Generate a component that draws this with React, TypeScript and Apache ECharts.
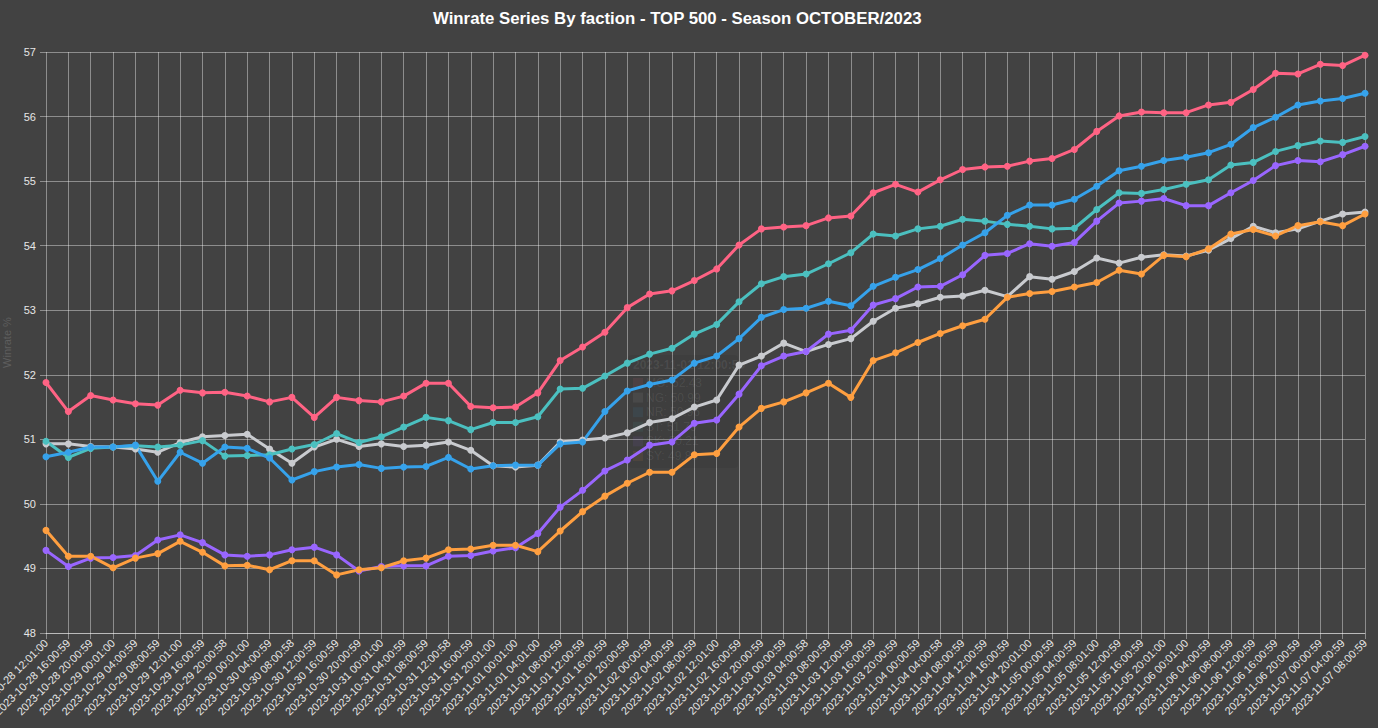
import React, { useEffect, useRef } from "react";
import * as echarts from "echarts";

const categories: string[] = [
  "2023-10-28 12:01:00", "2023-10-28 16:00:59", "2023-10-28 20:00:59", "2023-10-29 00:01:00",
  "2023-10-29 04:00:59", "2023-10-29 08:00:59", "2023-10-29 12:01:00", "2023-10-29 16:00:59",
  "2023-10-29 20:00:58", "2023-10-30 00:01:00", "2023-10-30 04:00:59", "2023-10-30 08:00:58",
  "2023-10-30 12:00:59", "2023-10-30 16:00:59", "2023-10-30 20:00:59", "2023-10-31 00:01:00",
  "2023-10-31 04:00:59", "2023-10-31 08:00:59", "2023-10-31 12:00:58", "2023-10-31 16:00:59",
  "2023-10-31 20:01:00", "2023-11-01 00:01:00", "2023-11-01 04:01:00", "2023-11-01 08:00:59",
  "2023-11-01 12:00:59", "2023-11-01 16:00:59", "2023-11-01 20:00:59", "2023-11-02 00:00:59",
  "2023-11-02 04:00:59", "2023-11-02 08:00:59", "2023-11-02 12:01:00", "2023-11-02 16:00:59",
  "2023-11-02 20:00:59", "2023-11-03 00:00:59", "2023-11-03 04:00:58", "2023-11-03 08:00:59",
  "2023-11-03 12:00:59", "2023-11-03 16:00:59", "2023-11-03 20:00:59", "2023-11-04 00:00:59",
  "2023-11-04 04:00:58", "2023-11-04 08:00:59", "2023-11-04 12:00:59", "2023-11-04 16:00:59",
  "2023-11-04 20:01:00", "2023-11-05 00:00:59", "2023-11-05 04:00:59", "2023-11-05 08:01:00",
  "2023-11-05 12:00:59", "2023-11-05 16:00:59", "2023-11-05 20:01:00", "2023-11-06 00:01:00",
  "2023-11-06 04:00:59", "2023-11-06 08:00:59", "2023-11-06 12:00:59", "2023-11-06 16:00:59",
  "2023-11-06 20:00:59", "2023-11-07 00:00:59", "2023-11-07 04:00:59", "2023-11-07 08:00:59",
];

const moValues: number[] = [
  51.88, 51.43, 51.68, 51.61, 51.55, 51.53, 51.76, 51.72, 51.73, 51.67, 51.58, 51.65, 51.34, 51.65, 51.6, 51.58, 51.67, 51.87, 51.87,
  51.51, 51.49, 51.5, 51.72, 52.22, 52.43, 52.66, 53.04, 53.25, 53.3, 53.46, 53.64, 54.01, 54.26, 54.29, 54.31, 54.43, 54.46, 54.82, 54.95,
  54.83, 55.02, 55.18, 55.22, 55.23, 55.31, 55.35, 55.49, 55.77, 56.01, 56.07, 56.06, 56.06, 56.18, 56.22, 56.42, 56.67, 56.66, 56.81, 56.79, 56.95,
];
const ngValues: number[] = [
  50.93, 50.93, 50.89, 50.88, 50.85, 50.8, 50.95, 51.04, 51.06, 51.08, 50.85, 50.63, 50.88, 51.0, 50.89, 50.93, 50.89, 50.91, 50.96,
  50.83, 50.59, 50.57, 50.6, 50.96, 50.99, 51.02, 51.1, 51.26, 51.32, 51.5, 51.61, 52.15, 52.29, 52.49, 52.36, 52.47, 52.56, 52.83, 53.03,
  53.1, 53.2, 53.22, 53.31, 53.21, 53.52, 53.48, 53.6, 53.81, 53.73, 53.82, 53.86, 53.84, 53.93, 54.11, 54.3, 54.2, 54.26, 54.38, 54.49, 54.52,
];
const nrValues: number[] = [
  50.73, 50.8, 50.88, 50.88, 50.91, 50.35, 50.8, 50.63, 50.88, 50.86, 50.71, 50.37, 50.5, 50.57, 50.61, 50.55, 50.57, 50.58, 50.72,
  50.54, 50.59, 50.6, 50.6, 50.93, 50.96, 51.43, 51.75, 51.85, 51.92, 52.18, 52.29, 52.56, 52.89, 53.01, 53.03, 53.14, 53.07, 53.37, 53.51,
  53.63, 53.8, 54.01, 54.2, 54.47, 54.63, 54.63, 54.72, 54.92, 55.16, 55.23, 55.32, 55.37, 55.44, 55.57, 55.83, 55.99, 56.18, 56.24, 56.28, 56.36,
];
const stValues: number[] = [
  50.97, 50.72, 50.86, 50.88, 50.9, 50.88, 50.91, 50.98, 50.74, 50.75, 50.76, 50.85, 50.92, 51.09, 50.95, 51.04, 51.19, 51.34, 51.29,
  51.15, 51.26, 51.26, 51.35, 51.78, 51.79, 51.98, 52.18, 52.32, 52.41, 52.63, 52.78, 53.13, 53.41, 53.52, 53.56, 53.72, 53.89, 54.18, 54.15,
  54.26, 54.3, 54.41, 54.38, 54.33, 54.3, 54.26, 54.27, 54.56, 54.82, 54.81, 54.87, 54.95, 55.02, 55.25, 55.29, 55.46, 55.55, 55.62, 55.6, 55.69,
];
const skValues: number[] = [
  49.28, 49.03, 49.16, 49.17, 49.2, 49.44, 49.52, 49.4, 49.21, 49.19, 49.21, 49.29, 49.33, 49.21, 48.96, 49.03, 49.04, 49.04, 49.19,
  49.2, 49.27, 49.32, 49.54, 49.95, 50.21, 50.51, 50.68, 50.91, 50.96, 51.25, 51.3, 51.7, 52.14, 52.29, 52.36, 52.63, 52.69, 53.08, 53.18,
  53.36, 53.37, 53.55, 53.85, 53.88, 54.03, 53.99, 54.05, 54.38, 54.66, 54.69, 54.73, 54.62, 54.62, 54.82, 55.01, 55.24, 55.32, 55.3, 55.41, 55.54,
];
const syValues: number[] = [
  49.59, 49.19, 49.19, 49.01, 49.16, 49.23, 49.42, 49.25, 49.04, 49.05, 48.98, 49.12, 49.12, 48.9, 48.98, 49.01, 49.12, 49.16, 49.29,
  49.3, 49.36, 49.36, 49.26, 49.58, 49.88, 50.12, 50.32, 50.49, 50.49, 50.76, 50.78, 51.19, 51.48, 51.58, 51.72, 51.87, 51.65, 52.22, 52.34,
  52.5, 52.64, 52.76, 52.86, 53.2, 53.26, 53.29, 53.36, 53.43, 53.62, 53.56, 53.85, 53.83, 53.95, 54.18, 54.25, 54.15, 54.31, 54.37, 54.31, 54.49,
];

const seriesNames: string[] = ["MO", "NG", "NR", "ST", "SK", "SY"];
const seriesValues: number[][] = [moValues, ngValues, nrValues, stValues, skValues, syValues];
const seriesColors: string[] = ["#ff6384", "#c9cbcf", "#36a2eb", "#4bc0c0", "#9966ff", "#ff9f40"];
const drawOrder: number[] = [1, 3, 2, 4, 5, 0];

const yTicks = { min: 48, max: 57, interval: 1 };
const ghostIndex = 24;

const FONT = "'Liberation Sans', Arial, Helvetica, sans-serif";

export default function App() {
  const ref = useRef<HTMLDivElement>(null);
  useEffect(() => {
    document.body.style.margin = "0";
    document.body.style.background = "#424242";
    if (!ref.current) return;
    const chart = echarts.init(ref.current, undefined, { renderer: "svg" });

    const ghost: any[] = [
      {
        type: "rect",
        shape: { x: 628, y: 355, width: 110, height: 113, r: 4 },
        style: { fill: "rgba(0,0,0,0.06)" },
        z: 1,
        silent: true,
      },
      {
        type: "text",
        x: 633,
        y: 365,
        style: {
          text: categories[ghostIndex],
          fill: "rgba(255,255,255,0.08)",
          font: `bold 12px ${FONT}`,
          verticalAlign: "middle",
        },
        z: 1,
        silent: true,
      },
    ];
    seriesNames.forEach((n, i) => {
      const cy = 383 + i * 14.6;
      ghost.push({
        type: "rect",
        shape: { x: 633, y: cy - 5, width: 10, height: 10 },
        style: { fill: seriesColors[i], opacity: 0.08 },
        z: 1,
        silent: true,
      });
      ghost.push({
        type: "text",
        x: 646,
        y: cy,
        style: {
          text: `${n}: ${seriesValues[i][ghostIndex]}`,
          fill: "rgba(255,255,255,0.08)",
          font: `12px ${FONT}`,
          verticalAlign: "middle",
        },
        z: 1,
        silent: true,
      });
    });

    chart.setOption({
      animation: false,
      backgroundColor: "#424242",
      textStyle: { fontFamily: FONT },
      title: {
        text: "Winrate Series By faction - TOP 500 - Season OCTOBER/2023",
        left: 428,
        top: 5,
        textStyle: { color: "#ffffff", fontSize: 16.8, fontWeight: "bold", fontFamily: FONT },
      },
      grid: { left: 46, right: 13, top: 52, bottom: 95, containLabel: false, outerBoundsMode: "none" },
      xAxis: {
        type: "category",
        data: categories,
        boundaryGap: false,
        axisLine: { show: true, lineStyle: { color: "rgba(255,255,255,0.4)", width: 1 } },
        axisTick: { show: true, length: 6, alignWithLabel: true, lineStyle: { color: "rgba(255,255,255,0.4)" } },
        axisLabel: {
          rotate: 45,
          interval: 0,
          color: "#e6e6e6",
          fontSize: 11,
          margin: 8,
          fontFamily: FONT,
        },
        splitLine: { show: true, interval: 0, lineStyle: { color: "rgba(255,255,255,0.4)", width: 1 } },
      },
      yAxis: {
        type: "value",
        min: yTicks.min,
        max: yTicks.max,
        interval: yTicks.interval,
        name: "Winrate %",
        nameLocation: "middle",
        nameGap: 33,
        nameTextStyle: { color: "#5e5e5e", fontSize: 11, fontFamily: FONT },
        axisLine: { show: false },
        axisTick: { show: true, length: 6, lineStyle: { color: "rgba(255,255,255,0.4)" } },
        axisLabel: { color: "#e6e6e6", fontSize: 11, margin: 10, fontFamily: FONT },
        splitLine: { show: true, lineStyle: { color: "rgba(255,255,255,0.4)", width: 1 } },
      },
      tooltip: { show: false },
      legend: { show: false },
      graphic: ghost,
      series: drawOrder.map((i) => ({
        name: seriesNames[i],
        type: "line",
        data: seriesValues[i],
        color: seriesColors[i],
        symbol: "circle",
        symbolSize: 7,
        showSymbol: true,
        lineStyle: { width: 3, color: seriesColors[i] },
        itemStyle: { color: seriesColors[i] },
        z: 3,
      })),
    });
    return () => chart.dispose();
  }, []);
  return <div ref={ref} style={{ width: 1378, height: 728 }} />;
}
